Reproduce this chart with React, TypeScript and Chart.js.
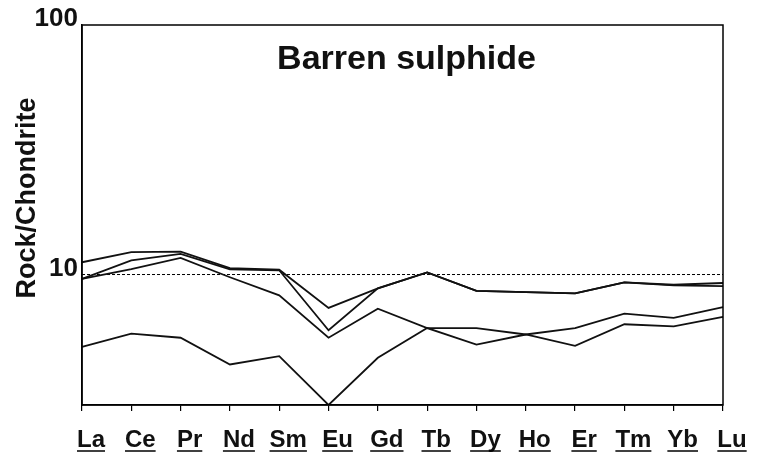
import React, { useEffect, useRef } from "react";
import { Chart, registerables } from "chart.js";

Chart.register(...registerables);

const elements = ["La", "Ce", "Pr", "Nd", "Sm", "Eu", "Gd", "Tb", "Dy", "Ho", "Er", "Tm", "Yb", "Lu"];

const sample1 = [11.2, 12.3, 12.35, 10.6, 10.45, 7.35, 8.8, 10.2, 8.6, 8.5, 8.4, 9.3, 9.1, 9.25];
const sample2 = [9.6, 11.4, 12.1, 10.5, 10.4, 5.98, 8.8, 10.2, 8.6, 8.5, 8.4, 9.3, 9.05, 8.98];
const sample3 = [9.6, 10.5, 11.65, 9.75, 8.25, 5.58, 7.3, 6.1, 6.1, 5.75, 5.18, 6.32, 6.2, 6.76];
const sample4 = [5.13, 5.8, 5.58, 4.36, 4.71, 3.0, 4.64, 6.1, 5.24, 5.75, 6.1, 6.97, 6.7, 7.41];

const yTickLabels = [10, 100];
const chartTitle = "Barren sulphide";
const yAxisTitle = "Rock/Chondrite";

const FONT = '"Liberation Sans", Arial, sans-serif';
const X_LABEL_SHIFT = 9;

const decorPlugin = {
  id: "decor",
  beforeDatasetsDraw(chart: any) {
    const { ctx, chartArea, scales } = chart;
    const y10 = scales.y.getPixelForValue(10);
    ctx.save();
    ctx.strokeStyle = "#000";
    ctx.lineWidth = 1;
    ctx.setLineDash([3, 2]);
    ctx.beginPath();
    ctx.moveTo(chartArea.left, y10);
    ctx.lineTo(chartArea.right, y10);
    ctx.stroke();
    ctx.restore();
  },
  afterDraw(chart: any) {
    const { ctx, chartArea, scales } = chart;
    ctx.save();
    ctx.strokeStyle = "#000";
    ctx.lineWidth = 1.5;
    ctx.strokeRect(chartArea.left, chartArea.top, chartArea.right - chartArea.left, chartArea.bottom - chartArea.top);

    ctx.fillStyle = "#111";
    ctx.font = `bold 34px ${FONT}`;
    ctx.textAlign = "center";
    ctx.textBaseline = "middle";
    ctx.fillText(chartTitle, (chartArea.left + chartArea.right) / 2 + 4, 60);

    ctx.save();
    ctx.translate(28, 198);
    ctx.rotate(-Math.PI / 2);
    ctx.font = `bold 27px ${FONT}`;
    ctx.fillText(yAxisTitle, 0, 0);
    ctx.restore();

    // underline x labels
    ctx.font = `bold 24px ${FONT}`;
    ctx.lineWidth = 1.5;
    elements.forEach((lab, i) => {
      const x = scales.x.getPixelForTick(i) + X_LABEL_SHIFT;
      const w = ctx.measureText(lab).width;
      ctx.beginPath();
      ctx.moveTo(x - w / 2, 451);
      ctx.lineTo(x + w / 2, 451);
      ctx.stroke();
    });
    ctx.restore();
  },
};

export default function App() {
  const ref = useRef<HTMLCanvasElement>(null);
  useEffect(() => {
    if (!ref.current) return;
    const mk = (data: number[]) => ({
      data,
      borderColor: "#111",
      borderWidth: 1.8,
      pointRadius: 0,
      tension: 0,
      fill: false,
    });
    const chart = new Chart(ref.current, {
      type: "line",
      data: {
        labels: elements,
        datasets: [mk(sample1), mk(sample2), mk(sample3), mk(sample4)],
      },
      options: {
        animation: false,
        responsive: false,
        layout: { padding: { left: 0, top: 25, right: 43, bottom: 0 } },
        plugins: { legend: { display: false }, tooltip: { enabled: false } },
        scales: {
          x: {
            type: "category",
            offset: false,
            grid: { display: true, drawOnChartArea: false, drawTicks: true, tickLength: 6, color: "#000", lineWidth: 1.2 },
            border: { display: true, color: "#000", width: 1.5 },
            ticks: {
              color: "#111",
              font: { family: FONT, size: 24, weight: "bold" },
              padding: 15,
              labelOffset: X_LABEL_SHIFT,
              maxRotation: 0,
              autoSkip: false,
            },
            afterFit(scale: any) {
              scale.height = 48;
            },
          },
          y: {
            type: "logarithmic",
            min: 3,
            max: 100,
            grid: { display: false, drawTicks: false },
            border: { display: true, color: "#000", width: 1.5 },
            ticks: {
              color: "#111",
              font: { family: FONT, size: 26, weight: "bold" },
              padding: 4,
              labelOffset: -6,
              autoSkip: false,
              callback: (v: any) => (yTickLabels.includes(Number(v)) ? String(v) : ""),
            },
            afterBuildTicks(scale: any) {
              scale.ticks = yTickLabels.map((v) => ({ value: v }));
            },
            afterFit(scale: any) {
              scale.width = 82;
            },
          },
        },
      },
      plugins: [decorPlugin],
    });
    return () => chart.destroy();
  }, []);
  return (
    <div style={{ position: "fixed", left: 0, top: 0, width: 766, height: 453, background: "#fff" }}>
      <canvas ref={ref} width={766} height={453} />
    </div>
  );
}
